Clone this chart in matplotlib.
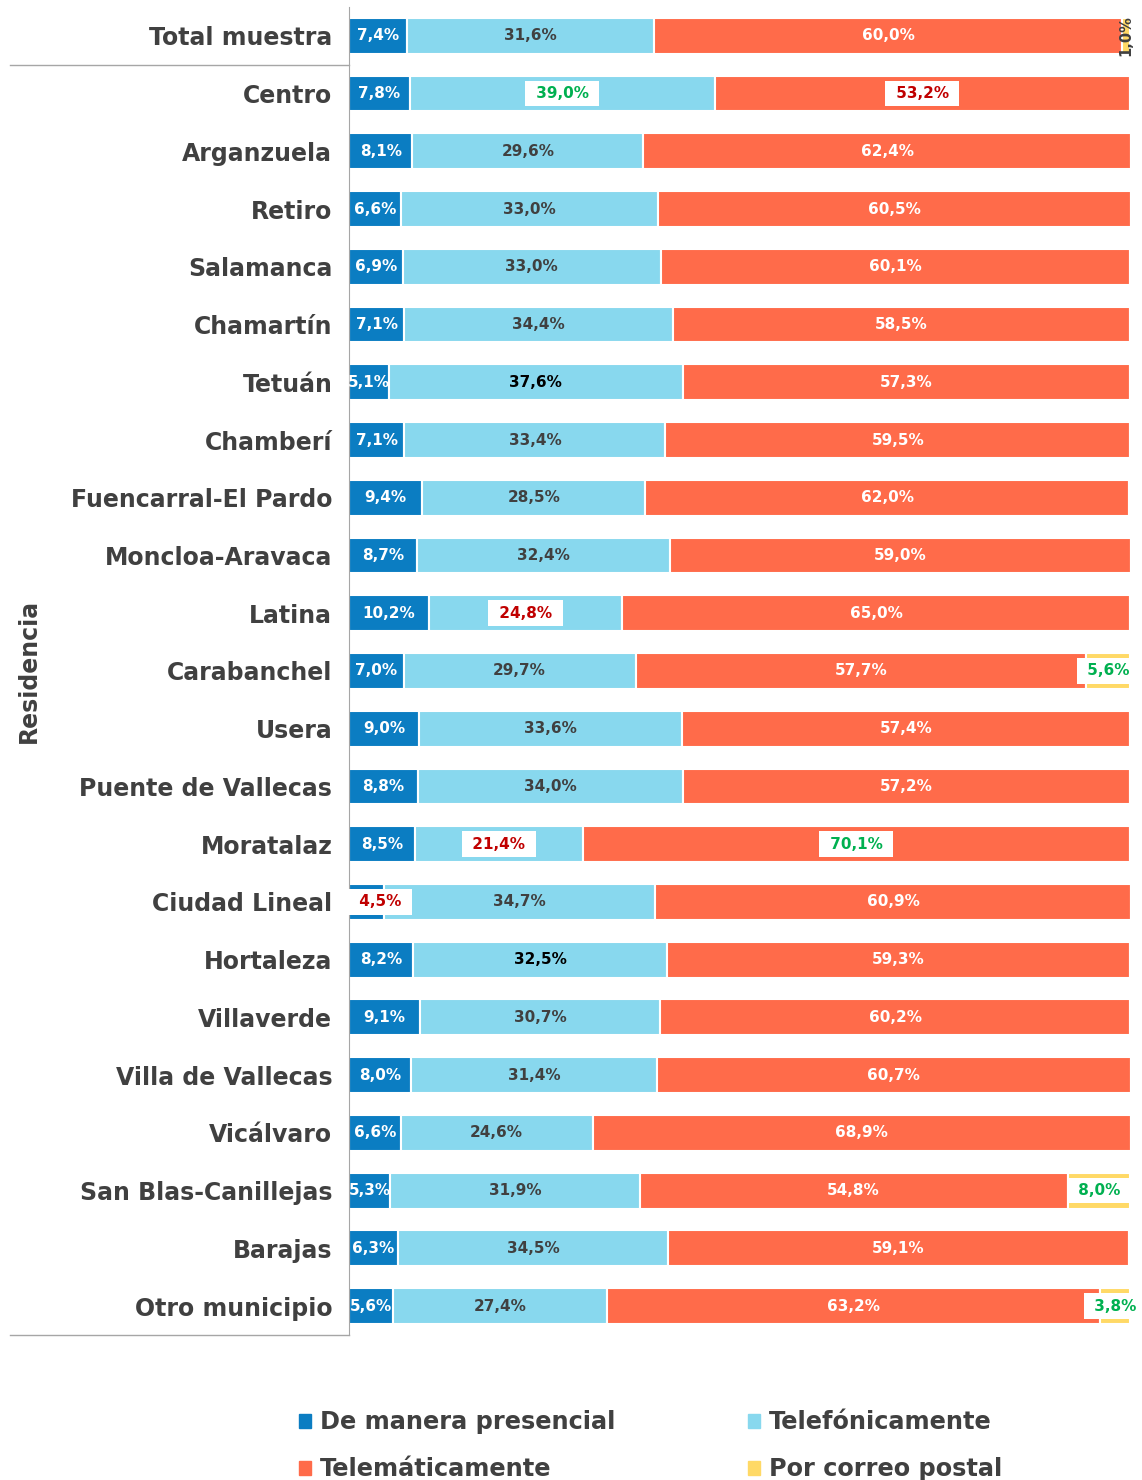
import matplotlib.pyplot as plt
from matplotlib.patches import Patch

# data (percent)
categorias = ["Total muestra", "Centro", "Arganzuela", "Retiro", "Salamanca", "Chamartín",
              "Tetuán", "Chamberí", "Fuencarral-El Pardo", "Moncloa-Aravaca", "Latina",
              "Carabanchel", "Usera", "Puente de Vallecas", "Moratalaz", "Ciudad Lineal",
              "Hortaleza", "Villaverde", "Villa de Vallecas", "Vicálvaro",
              "San Blas-Canillejas", "Barajas", "Otro municipio"]
presencial = [7.4, 7.8, 8.1, 6.6, 6.9, 7.1, 5.1, 7.1, 9.4, 8.7, 10.2, 7.0, 9.0, 8.8,
              8.5, 4.5, 8.2, 9.1, 8.0, 6.6, 5.3, 6.3, 5.6]
telefonica = [31.6, 39.0, 29.6, 33.0, 33.0, 34.4, 37.6, 33.4, 28.5, 32.4, 24.8, 29.7,
              33.6, 34.0, 21.4, 34.7, 32.5, 30.7, 31.4, 24.6, 31.9, 34.5, 27.4]
telematica = [60.0, 53.2, 62.4, 60.5, 60.1, 58.5, 57.3, 59.5, 62.0, 59.0, 65.0, 57.7,
              57.4, 57.2, 70.1, 60.9, 59.3, 60.2, 60.7, 68.9, 54.8, 59.1, 63.2]
postal = [1.0, 0, 0, 0, 0, 0, 0, 0, 0, 0, 0, 5.6, 0, 0, 0, 0, 0, 0, 0, 0, 8.0, 0, 3.8]

series = ["De manera presencial", "Telefónicamente", "Telemáticamente", "Por correo postal"]
colores = ["#0B7DC2", "#88D8EE", "#FF6B4A", "#FFD966"]
color_texto = ["white", "#404040", "white", "#404040"]

# highlighted labels (row, serie): colour of the text in a white box
verde, rojo = "#00B050", "#C00000"
destacados = {(1, 1): verde, (1, 2): rojo, (10, 1): rojo, (11, 3): verde,
              (14, 1): rojo, (14, 2): verde, (15, 0): rojo, (20, 3): verde, (22, 3): verde}
negros = {(6, 1), (16, 1)}

def fmt(v):
    return f"{v:.1f}%".replace(".", ",")

fig = plt.figure(figsize=(11.42, 14.80), dpi=100)
ax = fig.add_axes([0.3056, 0.098, 0.684, 0.8973])

y = list(range(len(categorias)))
datos = [presencial, telefonica, telematica, postal]
izq = [0.0] * len(categorias)
for k, vals in enumerate(datos):
    ax.barh(y, vals, left=izq, height=0.62, color=colores[k],
            edgecolor="white", linewidth=1.5)
    for i, v in enumerate(vals):
        if v <= 0:
            continue
        xc = izq[i] + v / 2
        if (i, k) in destacados:
            ha = "center"
            if xc < 3:
                xc, ha = 0.6, "left"
            ax.text(xc, i, " " + fmt(v) + " ", ha=ha, va="center", fontsize=11,
                    fontweight="bold", color=destacados[(i, k)],
                    bbox=dict(boxstyle="square,pad=0.35", facecolor="white", edgecolor="none"))
        elif k == 3:
            ax.text(xc, i, fmt(v), ha="center", va="center", fontsize=10.5,
                    fontweight="bold", color="#404040", rotation=90, clip_on=False)
        else:
            c = "black" if (i, k) in negros else color_texto[k]
            ax.text(xc, i, fmt(v), ha="center", va="center", fontsize=11,
                    fontweight="bold", color=c, clip_on=True)
    izq = [a + b for a, b in zip(izq, vals)]

ax.set_xlim(0, 100)
ax.set_ylim(len(categorias) - 0.5, -0.5)
ax.set_yticks(y)
ax.set_yticklabels(categorias, fontsize=17, fontweight="bold", color="#404040")
ax.tick_params(axis="y", length=0, pad=12)
ax.set_xticks([])
for s in ["top", "right", "bottom"]:
    ax.spines[s].set_visible(False)
ax.spines["left"].set_color("#A6A6A6")

# table-like separators on the left
tr = ax.get_yaxis_transform()
ax.plot([-0.434, 0], [0.5, 0.5], transform=tr, color="#A6A6A6", lw=1, clip_on=False)
ax.plot([-0.434, 0], [22.5, 22.5], transform=tr, color="#A6A6A6", lw=1, clip_on=False)

ax.set_ylabel("Residencia", fontsize=17, fontweight="bold", color="#404040")
ax.yaxis.set_label_coords(-0.395, 0.5)

handles = [Patch(color=colores[0]), Patch(color=colores[2]),
           Patch(color=colores[1]), Patch(color=colores[3])]
labels = [series[0], series[2], series[1], series[3]]
leg = fig.legend(handles, labels, loc="upper left", bbox_to_anchor=(0.262, 0.047),
                 ncol=2, frameon=False, fontsize=17.3, handlelength=0.5, handleheight=0.5,
                 handletextpad=0.35, columnspacing=5.55, labelspacing=0.95,
                 borderpad=0, borderaxespad=0)
for t in leg.get_texts():
    t.set_fontweight("bold")
    t.set_color("#404040")

fig.savefig("out.png", dpi=100)
